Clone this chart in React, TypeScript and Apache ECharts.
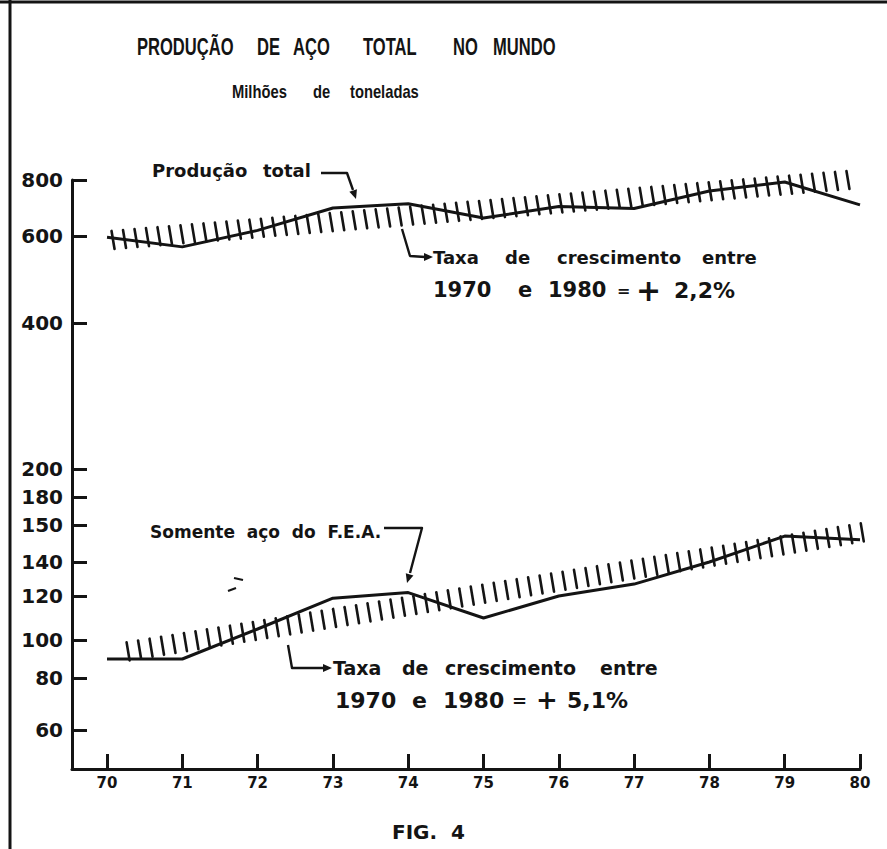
import React, { useEffect, useRef } from "react";
import * as echarts from "echarts";

// ---------- data ----------
const years = [70, 71, 72, 73, 74, 75, 76, 77, 78, 79, 80];
const totalProduction = [597, 575, 620, 700, 715, 664, 705, 698, 761, 793, 711];
const eafProduction = [90, 90, 105, 119, 122, 110, 120, 127, 140, 147, 146];
// growth-rate trend bands (hatched): [year, value] at start and end
const totalTrend = [
  [70.08, 591],
  [79.84, 800],
];
const eafTrend = [
  [70.28, 94],
  [80.03, 148],
];
const yTickLabels = [60, 80, 100, 120, 140, 150, 180, 200, 400, 600, 800];

// The printed y axis is hand-graduated (non-uniform): axis units for each label
const Y_SCALE_STOPS = [39, 91, 129, 173, 207, 244, 272, 300, 446, 533, 589];
const Y_AXIS_MAX = 589;

function toAxis(v: number): number {
  const L = yTickLabels;
  const S = Y_SCALE_STOPS;
  let i = 0;
  if (v <= L[0]) i = 0;
  else if (v >= L[L.length - 1]) i = L.length - 2;
  else {
    while (i < L.length - 2 && v > L[i + 1]) i++;
  }
  const t = (v - L[i]) / (L[i + 1] - L[i]);
  return S[i] + t * (S[i + 1] - S[i]);
}

const INK = "#141414";
const FONT = '"DejaVu Sans"';

function words(list: [string, number, number?][], y: number, size: number) {
  return list.map(([text, x, sz]) => ({
    type: "text",
    x,
    y,
    style: {
      text,
      fill: INK,
      font: `bold ${sz || size}px ${FONT}`,
      align: "left",
      verticalAlign: "middle",
    },
  }));
}

function titleWords(list: [string, number][], y: number, size: number, sx: number) {
  return list.map(([text, x]) => ({
    type: "text",
    x,
    y,
    scaleX: sx,
    style: {
      text,
      fill: INK,
      font: `bold ${size}px "Liberation Sans"`,
      align: "left",
      verticalAlign: "middle",
    },
  }));
}

function arrowHead(from: number[], tip: number[], len = 9, half = 4) {
  const dx = tip[0] - from[0];
  const dy = tip[1] - from[1];
  const d = Math.hypot(dx, dy) || 1;
  const ux = dx / d;
  const uy = dy / d;
  const bx = tip[0] - ux * len;
  const by = tip[1] - uy * len;
  return {
    type: "polygon",
    shape: {
      points: [
        [tip[0], tip[1]],
        [bx - uy * half, by + ux * half],
        [bx + uy * half, by - ux * half],
      ],
    },
    style: { fill: INK },
  };
}

function connector(points: number[][], tip: number[]) {
  return [
    {
      type: "polyline",
      shape: { points },
      style: { stroke: INK, lineWidth: 2.4, fill: "none", lineJoin: "round" },
    },
    arrowHead(points[points.length - 1], tip),
  ];
}

const HATCH_GAP = 11.6;

function hatchRender(params: any, api: any) {
  const a = api.coord([api.value(0), api.value(1)]);
  const b = api.coord([api.value(2), api.value(3)]);
  const dx = b[0] - a[0];
  const dy = b[1] - a[1];
  const n = Math.max(1, Math.round(Math.hypot(dx, dy) / HATCH_GAP));
  const children: any[] = [];
  for (let k = 0; k <= n; k++) {
    const t = k / n;
    const cx = a[0] + dx * t;
    const cy = a[1] + dy * t;
    children.push({
      type: "line",
      shape: { x1: cx - 1.5, y1: cy - 9, x2: cx + 1.5, y2: cy + 9 },
      style: { stroke: INK, lineWidth: 2.6, lineCap: "round" },
    });
  }
  return { type: "group", children };
}

export default function App() {
  const ref = useRef<HTMLDivElement>(null);

  useEffect(() => {
    document.body.style.margin = "0";
    if (!ref.current) return;
    const chart = echarts.init(ref.current, undefined, { renderer: "svg" });

    const graphic: any[] = [
      // scan frame
      { type: "line", shape: { x1: 0, y1: 2, x2: 887, y2: 2 }, style: { stroke: INK, lineWidth: 3 } },
      { type: "line", shape: { x1: 10, y1: 0, x2: 10, y2: 849 }, style: { stroke: INK, lineWidth: 3 } },
      ...titleWords(
        [
          ["PRODUÇÃO", 137],
          ["DE", 257],
          ["AÇO", 293],
          ["TOTAL", 363],
          ["NO", 453],
          ["MUNDO", 493],
        ],
        47,
        23,
        0.72
      ),
      ...titleWords(
        [
          ["Milhões", 232],
          ["de", 313],
          ["toneladas", 350],
        ],
        91,
        18,
        0.82
      ),
      ...words(
        [
          ["Produção", 152],
          ["total", 263],
        ],
        170,
        18
      ),
      ...connector(
        [
          [321, 173],
          [347, 173],
          [353, 190],
        ],
        [356, 199]
      ),
      ...words(
        [
          ["Taxa", 433],
          ["de", 505],
          ["crescimento", 557],
          ["entre", 702],
        ],
        257,
        18
      ),
      ...words(
        [
          ["1970", 433],
          ["e", 518],
          ["1980", 548],
          ["=", 617, 16],
          ["+", 636, 30],
          ["2,2%", 674, 22],
        ],
        290,
        21
      ),
      ...connector(
        [
          [402, 229],
          [410, 256],
          [425, 257],
        ],
        [433, 257]
      ),
      ...words([["Somente  aço  do  F.E.A.", 150]], 532, 17),
      ...connector(
        [
          [384, 528],
          [422, 528],
          [410, 573],
        ],
        [407, 583]
      ),
      ...words(
        [
          ["Taxa", 333],
          ["de", 402],
          ["crescimento", 445],
          ["entre", 600],
        ],
        668,
        19
      ),
      ...words(
        [
          ["1970", 335],
          ["e", 412],
          ["1980", 443],
          ["=", 512, 18],
          ["+", 536, 26],
          ["5,1%", 567],
        ],
        700,
        22
      ),
      ...connector(
        [
          [288, 645],
          [292, 668],
          [324, 668],
        ],
        [332, 668]
      ),
      // stray pen marks
      { type: "line", shape: { x1: 234, y1: 578, x2: 243, y2: 580 }, style: { stroke: INK, lineWidth: 2.2 } },
      { type: "line", shape: { x1: 228, y1: 591, x2: 236, y2: 588 }, style: { stroke: INK, lineWidth: 2.2 } },
      ...words([["FIG.  4", 392]], 832, 20),
    ];

    chart.setOption({
      animation: false,
      backgroundColor: "#ffffff",
      grid: { left: 72, right: 27, top: 180, bottom: 80, containLabel: false },
      xAxis: {
        type: "value",
        min: 69.535,
        max: 80,
        axisLine: { show: true, onZero: false, lineStyle: { color: INK, width: 3 } },
        axisTick: {
          show: true,
          inside: true,
          length: 15,
          customValues: years,
          lineStyle: { color: INK, width: 3 },
        },
        axisLabel: {
          show: true,
          customValues: years,
          margin: 6,
          color: INK,
          fontFamily: FONT,
          fontWeight: "bold",
          fontSize: 15,
          formatter: (v: number) => String(Math.round(v)),
        },
        splitLine: { show: false },
      },
      yAxis: {
        type: "value",
        min: 0,
        max: Y_AXIS_MAX,
        axisLine: { show: true, lineStyle: { color: INK, width: 3 } },
        axisTick: {
          show: true,
          inside: true,
          length: 15,
          customValues: Y_SCALE_STOPS,
          lineStyle: { color: INK, width: 3 },
        },
        axisLabel: {
          show: true,
          customValues: Y_SCALE_STOPS,
          margin: 9,
          color: INK,
          fontFamily: FONT,
          fontWeight: "bold",
          fontSize: 20,
          formatter: (v: number) => {
            const i = Y_SCALE_STOPS.findIndex((s) => Math.abs(s - v) < 0.5);
            return i >= 0 ? String(yTickLabels[i]) : "";
          },
        },
        splitLine: { show: false },
      },
      series: [
        {
          name: "Produção total",
          type: "line",
          data: years.map((y, i) => [y, toAxis(totalProduction[i])]),
          symbol: "none",
          lineStyle: { color: INK, width: 3 },
        },
        {
          name: "Somente aço do F.E.A.",
          type: "line",
          data: years.map((y, i) => [y, toAxis(eafProduction[i])]),
          symbol: "none",
          lineStyle: { color: INK, width: 3 },
        },
        {
          name: "Taxa total",
          type: "custom",
          renderItem: hatchRender,
          encode: { x: 0, y: 1 },
          data: [[totalTrend[0][0], toAxis(totalTrend[0][1]), totalTrend[1][0], toAxis(totalTrend[1][1])]],
        },
        {
          name: "Taxa F.E.A.",
          type: "custom",
          renderItem: hatchRender,
          encode: { x: 0, y: 1 },
          data: [[eafTrend[0][0], toAxis(eafTrend[0][1]), eafTrend[1][0], toAxis(eafTrend[1][1])]],
        },
      ],
      graphic,
    });

    return () => chart.dispose();
  }, []);

  return (
    <div
      ref={ref}
      style={{ position: "absolute", left: 0, top: 0, width: 887, height: 849, background: "#fff" }}
    />
  );
}
